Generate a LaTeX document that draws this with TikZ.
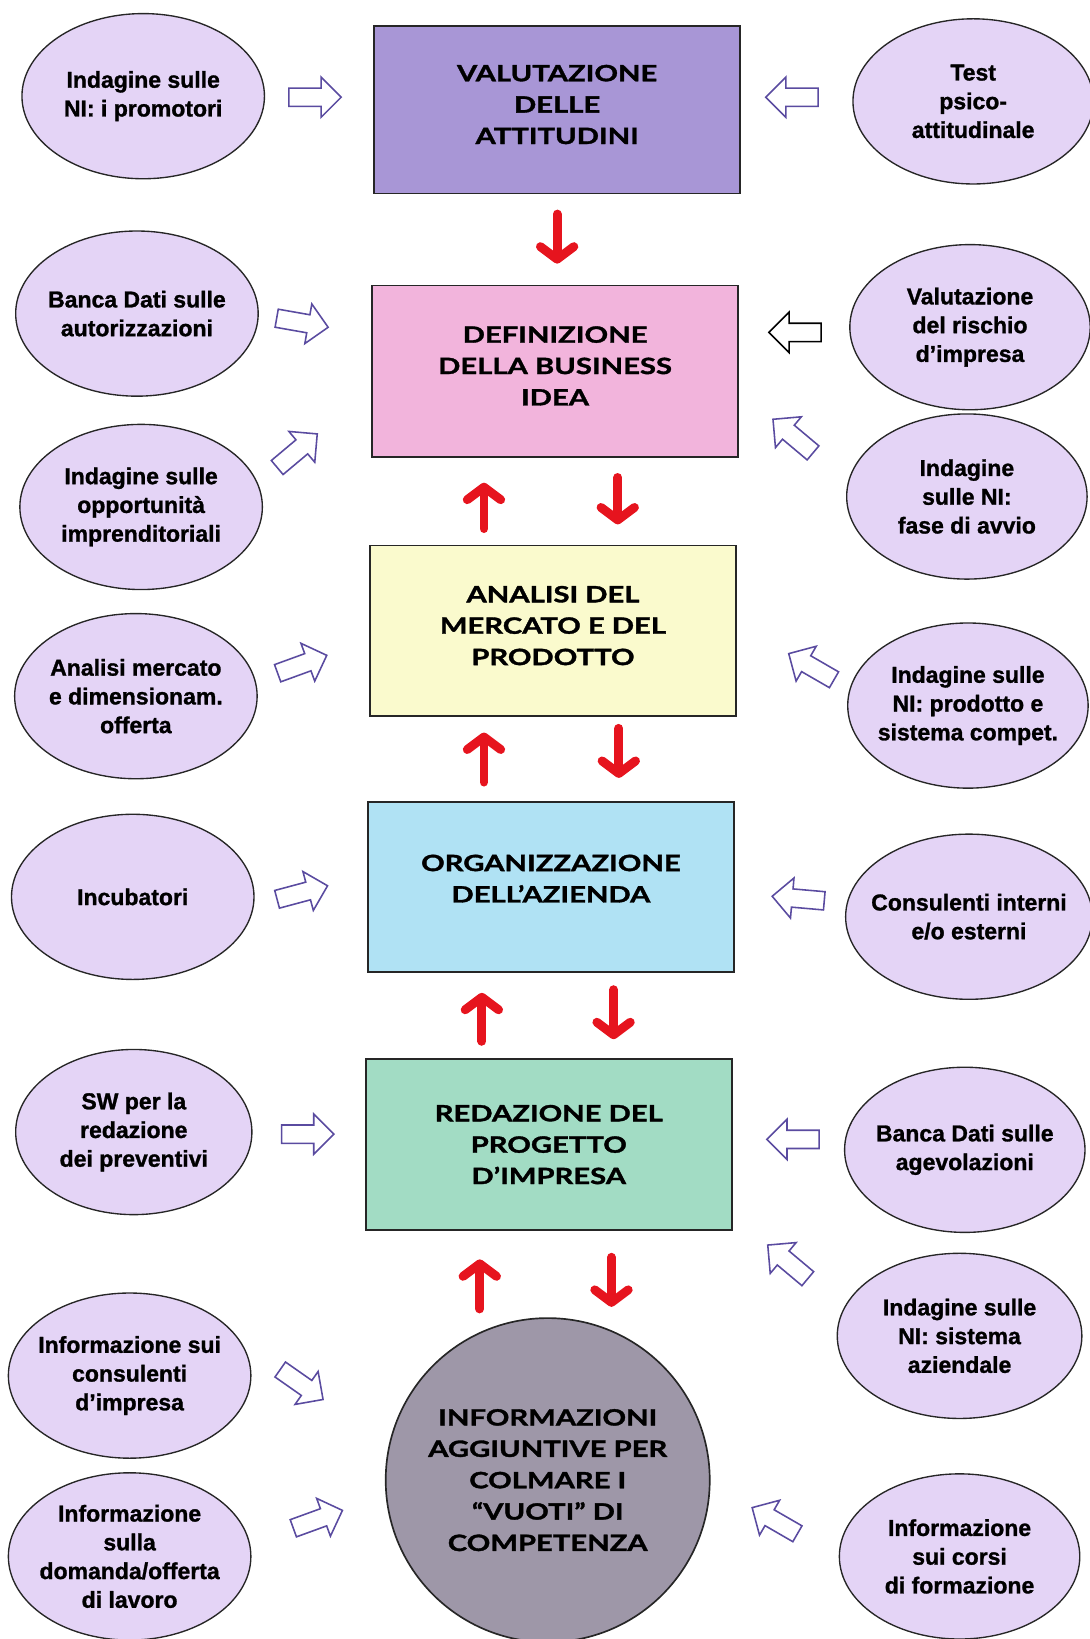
\documentclass[tikz,border=0pt]{standalone}
\usepackage{fontspec}
\setmainfont{Liberation Sans}
\newfontfamily\stagefont{Lato}
\usetikzlibrary{shapes.geometric,shapes.arrows,arrows.meta}
\definecolor{cvalut}{HTML}{A896D6}
\definecolor{cdefin}{HTML}{F2B4DC}
\definecolor{canal}{HTML}{FAFACD}
\definecolor{corg}{HTML}{B0E2F4}
\definecolor{cred}{HTML}{A2DCC4}
\definecolor{cinfo}{HTML}{9E97A8}
\definecolor{cell}{HTML}{E4D4F6}
\definecolor{carr}{HTML}{5A4BA0}
\definecolor{cred2}{HTML}{E6141E}
\tikzset{
  stagefnt/.style={font=\stagefont\bfseries\fontsize{21.5}{30}\selectfont\addfontfeature{FakeStretch=1.3,FakeBold=1.5}},
  stage/.style={draw=black!85, line width=1.6pt, minimum width=350pt, inner sep=0pt},
  stagetext/.style={stagefnt, align=center, inner sep=0pt},
  tool/.style={ellipse, draw=black!85, line width=1.3pt, fill=cell, align=center,
    minimum width=232pt, minimum height=158pt,
    inner xsep=-40pt, inner ysep=-30pt,
    font=\bfseries\fontsize{22}{27.5}\selectfont\addfontfeature{FakeBold=1.2}},
  hollow/.style={single arrow, draw=carr, fill=white, line width=1.5pt,
    minimum height=50pt, minimum width=37pt, single arrow head extend=10.5pt,
    inner xsep=0pt, inner ysep=8pt},
  redarr/.style={draw=cred2, line width=8.5pt, line cap=round, line join=round,
    -{Straight Barb[round,length=12pt,width=32pt]}}
}
\begin{document}
\begin{tikzpicture}[x=1pt,y=-1pt]
\useasboundingbox (0,0) rectangle (1042,1568);

% central stages
\node[stage, fill=cvalut, minimum height=160pt] (b1) at (533,105) {};
\node[stagetext] (b1t) at ([yshift=5pt]b1.center) {VALUTAZIONE\\DELLE\\ATTITUDINI};
\node[stage, fill=cdefin, minimum height=164pt] (b2) at (531,355) {};
\node[stagetext] (b2t) at ([yshift=5pt]b2.center) {DEFINIZIONE\\DELLA BUSINESS\\IDEA};
\node[stage, fill=canal, minimum height=163pt] (b3) at (529,603.5) {};
\node[stagetext] (b3t) at ([yshift=5pt]b3.center) {ANALISI DEL\\MERCATO E DEL\\PRODOTTO};
\node[stage, fill=corg, minimum height=163pt] (b4) at (527,848.5) {};
\node[stagetext] (b4t) at ([yshift=8pt]b4.center) {ORGANIZZAZIONE\\DELL’AZIENDA};
\node[stage, fill=cred, minimum height=164pt] (b5) at (525,1095) {};
\node[stagetext] (b5t) at (b5.center) {REDAZIONE DEL\\PROGETTO\\D’IMPRESA};
\node[circle, draw=black!85, line width=1.6pt, fill=cinfo, minimum size=310pt, inner sep=0pt,
  align=center, stagefnt] (circ) at (524,1416)
  {INFORMAZIONI\\AGGIUNTIVE PER\\COLMARE I\\“VUOTI” DI\\COMPETENZA};

% left ellipses
\node[tool] (l1) at (137,92) {Indagine sulle\\NI: i promotori};
\node[tool] (l2) at (131,300) {Banca Dati sulle\\autorizzazioni};
\node[tool] (l3) at (135,485) {Indagine sulle\\opportunità\\imprenditoriali};
\node[tool] (l4) at (130,666) {Analisi mercato\\e dimensionam.\\offerta};
\node[tool] (l5) at (127,858) {Incubatori};
\node[tool, minimum width=226pt] (l6) at (128,1083) {SW per la\\redazione\\dei preventivi};
\node[tool] (l7) at (124,1316) {Informazione sui\\consulenti\\d’impresa};
\node[tool, minimum height=160pt] (l8) at (124,1489) {Informazione\\sulla\\domanda/offerta\\di lavoro};

% right ellipses
\node[tool, minimum width=230pt] (r1) at (931,97) {Test\\psico-\\attitudinale};
\node[tool, minimum width=230pt] (r2) at (928,313) {Valutazione\\del rischio\\d’impresa};
\node[tool, minimum width=230pt] (r3) at (925,475) {Indagine\\sulle NI:\\fase di avvio};
\node[tool, minimum width=230pt] (r4) at (926,675) {Indagine sulle\\NI: prodotto e\\sistema compet.};
\node[tool, minimum width=236pt] (r5) at (927,877) {Consulenti interni\\e/o esterni};
\node[tool, minimum width=230pt] (r6) at (923,1100) {Banca Dati sulle\\agevolazioni};
\node[tool, minimum width=234pt] (r7) at (918,1278) {Indagine sulle\\NI: sistema\\aziendale};
\node[tool, minimum width=230pt] (r8) at (918,1489) {Informazione\\sui corsi\\di formazione};

% hollow arrows, left side
\node[hollow, rotate=0]   (hl1) at (297,93) {};
\node[hollow, rotate=-10] (hl2) at (285,308) {};
\node[hollow, rotate=40]  (hl3) at (281,434) {};
\node[hollow, rotate=20]  (hl4) at (285,637) {};
\node[hollow, rotate=15]  (hl5) at (285,855) {};
\node[hollow, rotate=0]   (hl6) at (290,1085) {};
\node[hollow, rotate=-35] (hl7) at (285,1322) {};
\node[hollow, rotate=20]  (hl8) at (300,1455) {};

% hollow arrows, right side
\node[hollow, rotate=180] (hr1) at (762,93) {};
\node[hollow, rotate=180, draw=black] (hr2) at (765,318) {};
\node[hollow, rotate=140] (hr3) at (762,420) {};
\node[hollow, rotate=150] (hr4) at (780,640) {};
\node[hollow, rotate=175] (hr5) at (768,860) {};
\node[hollow, rotate=180] (hr6) at (763,1090) {};
\node[hollow, rotate=140] (hr7) at (757,1210) {};
\node[hollow, rotate=150] (hr8) at (745,1457) {};

% red arrows
\draw[redarr, shorten <=19pt, shorten >=20pt] (b1.south) -- ([xshift=2pt]b2.north);
\draw[redarr, shorten <=15.5pt, shorten >=24pt] ([xshift=-66pt]b3.north) -- ([xshift=-68pt]b2.south);
\draw[redarr, shorten <=19pt, shorten >=19.5pt] ([xshift=60pt]b2.south) -- ([xshift=62pt]b3.north);
\draw[redarr, shorten <=18pt, shorten >=15pt] ([xshift=-64pt]b4.north) -- ([xshift=-66pt]b3.south);
\draw[redarr, shorten <=11pt, shorten >=22pt] ([xshift=63pt]b3.south) -- ([xshift=65pt]b4.north);
\draw[redarr, shorten <=16pt, shorten >=19pt] ([xshift=-64pt]b5.north) -- ([xshift=-66pt]b4.south);
\draw[redarr, shorten <=16pt, shorten >=18pt] ([xshift=60pt]b4.south) -- ([xshift=62pt]b5.north);
\draw[redarr, shorten <=8pt, shorten >=27pt] ([xshift=-65pt]circ.north) -- ([xshift=-66pt]b5.south);
\draw[redarr, shorten <=25pt, shorten >=10pt] ([xshift=60pt]b5.south) -- ([xshift=61pt]circ.north);
\end{tikzpicture}
\end{document}
